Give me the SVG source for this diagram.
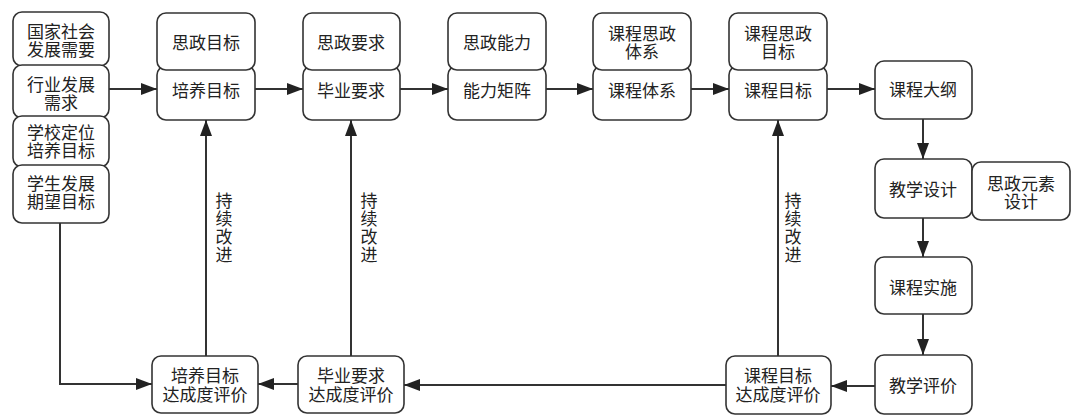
<svg xmlns="http://www.w3.org/2000/svg" width="1074" height="417" viewBox="0 0 1074 417">
<style>
.b{fill:#fff;stroke:#333;stroke-width:1.6}
.t{font-family:"Liberation Serif","Noto Sans CJK SC",serif;font-size:17px;fill:#222;text-anchor:middle;dominant-baseline:central}
.c{fill:none;stroke:#333;stroke-width:2}
</style>
<defs>
<marker id="ah" viewBox="0 0 16 12" refX="16" refY="6" markerWidth="16" markerHeight="12" markerUnits="userSpaceOnUse" orient="auto">
<path d="M0,0 L16,6 L0,12 Z" fill="#222"/>
</marker>
</defs>
<rect width="1074" height="417" fill="#fff"/>
<g id="connectors">
<line class="c" x1="109" y1="89" x2="157" y2="89" marker-end="url(#ah)"/>
<line class="c" x1="255" y1="89" x2="303" y2="89" marker-end="url(#ah)"/>
<line class="c" x1="400" y1="89" x2="448" y2="89" marker-end="url(#ah)"/>
<line class="c" x1="546" y1="89" x2="593" y2="89" marker-end="url(#ah)"/>
<line class="c" x1="691" y1="89" x2="729" y2="89" marker-end="url(#ah)"/>
<line class="c" x1="827" y1="89" x2="875" y2="89" marker-end="url(#ah)"/>
<line class="c" x1="923" y1="119" x2="923" y2="159" marker-end="url(#ah)"/>
<line class="c" x1="923" y1="218" x2="923" y2="257" marker-end="url(#ah)"/>
<line class="c" x1="923" y1="314" x2="923" y2="355" marker-end="url(#ah)"/>
<line class="c" x1="875" y1="386" x2="831" y2="386" marker-end="url(#ah)"/>
<line class="c" x1="726" y1="385" x2="404" y2="385" marker-end="url(#ah)"/>
<line class="c" x1="298" y1="384" x2="258" y2="384" marker-end="url(#ah)"/>
<polyline class="c" points="60,223 60,384 152,384" marker-end="url(#ah)"/>
<line class="c" x1="206" y1="356" x2="206" y2="120" marker-end="url(#ah)"/>
<line class="c" x1="351" y1="356" x2="351" y2="120" marker-end="url(#ah)"/>
<line class="c" x1="778" y1="356" x2="778" y2="120" marker-end="url(#ah)"/>
<g>
<text class="t" x="224" y="201">持</text><text class="t" x="224" y="219">续</text><text class="t" x="224" y="237">改</text><text class="t" x="224" y="255">进</text>
<text class="t" x="369" y="201">持</text><text class="t" x="369" y="219">续</text><text class="t" x="369" y="237">改</text><text class="t" x="369" y="255">进</text>
<text class="t" x="793" y="201">持</text><text class="t" x="793" y="219">续</text><text class="t" x="793" y="237">改</text><text class="t" x="793" y="255">进</text>
</g>
</g>
<g id="n-guojia"><rect class="b" x="13" y="12" width="96" height="54" rx="9"/><text class="t" x="61" y="32">国家社会</text><text class="t" x="61" y="50">发展需要</text></g>
<g id="n-hangye"><rect class="b" x="13" y="65" width="96" height="53" rx="9"/><text class="t" x="61" y="85">行业发展</text><text class="t" x="61" y="103">需求</text></g>
<g id="n-xuexiao"><rect class="b" x="13" y="116" width="96" height="51" rx="9"/><text class="t" x="61" y="133">学校定位</text><text class="t" x="61" y="151">培养目标</text></g>
<g id="n-xuesheng"><rect class="b" x="13" y="165" width="96" height="58" rx="9"/><text class="t" x="61" y="184">学生发展</text><text class="t" x="61" y="202">期望目标</text></g>
<g id="n-peiyang"><rect class="b" x="157" y="66" width="98" height="54" rx="9"/><text class="t" x="206" y="91">培养目标</text></g>
<g id="n-sizhengmubiao"><rect class="b" x="157" y="13" width="98" height="57" rx="9"/><text class="t" x="206" y="43">思政目标</text></g>
<g id="n-biye"><rect class="b" x="303" y="66" width="97" height="54" rx="9"/><text class="t" x="351" y="91">毕业要求</text></g>
<g id="n-sizhengyaoqiu"><rect class="b" x="303" y="13" width="97" height="57" rx="9"/><text class="t" x="351" y="43">思政要求</text></g>
<g id="n-nengli"><rect class="b" x="448" y="66" width="98" height="54" rx="9"/><text class="t" x="497" y="91">能力矩阵</text></g>
<g id="n-sizhengnengli"><rect class="b" x="448" y="13" width="98" height="57" rx="9"/><text class="t" x="497" y="43">思政能力</text></g>
<g id="n-kechengtixi"><rect class="b" x="593" y="66" width="98" height="54" rx="9"/><text class="t" x="642" y="91">课程体系</text></g>
<g id="n-kcsztixi"><rect class="b" x="593" y="13" width="98" height="57" rx="9"/><text class="t" x="642" y="34">课程思政</text><text class="t" x="642" y="52">体系</text></g>
<g id="n-kechengmubiao"><rect class="b" x="729" y="66" width="98" height="54" rx="9"/><text class="t" x="778" y="91">课程目标</text></g>
<g id="n-kcszmubiao"><rect class="b" x="729" y="13" width="98" height="57" rx="9"/><text class="t" x="778" y="34">课程思政</text><text class="t" x="778" y="52">目标</text></g>
<g id="n-dagang"><rect class="b" x="875" y="61" width="97" height="58" rx="9"/><text class="t" x="923" y="90">课程大纲</text></g>
<g id="n-jiaoxuesheji"><rect class="b" x="875" y="159" width="97" height="59" rx="9"/><text class="t" x="923" y="190">教学设计</text></g>
<g id="n-yuansu"><rect class="b" x="972" y="162" width="98" height="58" rx="9"/><text class="t" x="1021" y="184">思政元素</text><text class="t" x="1021" y="202">设计</text></g>
<g id="n-shishi"><rect class="b" x="875" y="257" width="97" height="57" rx="9"/><text class="t" x="923" y="288">课程实施</text></g>
<g id="n-pingjia"><rect class="b" x="875" y="355" width="97" height="59" rx="9"/><text class="t" x="923" y="386">教学评价</text></g>
<g id="n-kcdcd"><rect class="b" x="726" y="356" width="105" height="58" rx="9"/><text class="t" x="778" y="376">课程目标</text><text class="t" x="778" y="395">达成度评价</text></g>
<g id="n-bydcd"><rect class="b" x="298" y="356" width="106" height="57" rx="9"/><text class="t" x="351" y="376">毕业要求</text><text class="t" x="351" y="395">达成度评价</text></g>
<g id="n-pydcd"><rect class="b" x="152" y="356" width="106" height="57" rx="9"/><text class="t" x="205" y="376">培养目标</text><text class="t" x="205" y="395">达成度评价</text></g>
</svg>
